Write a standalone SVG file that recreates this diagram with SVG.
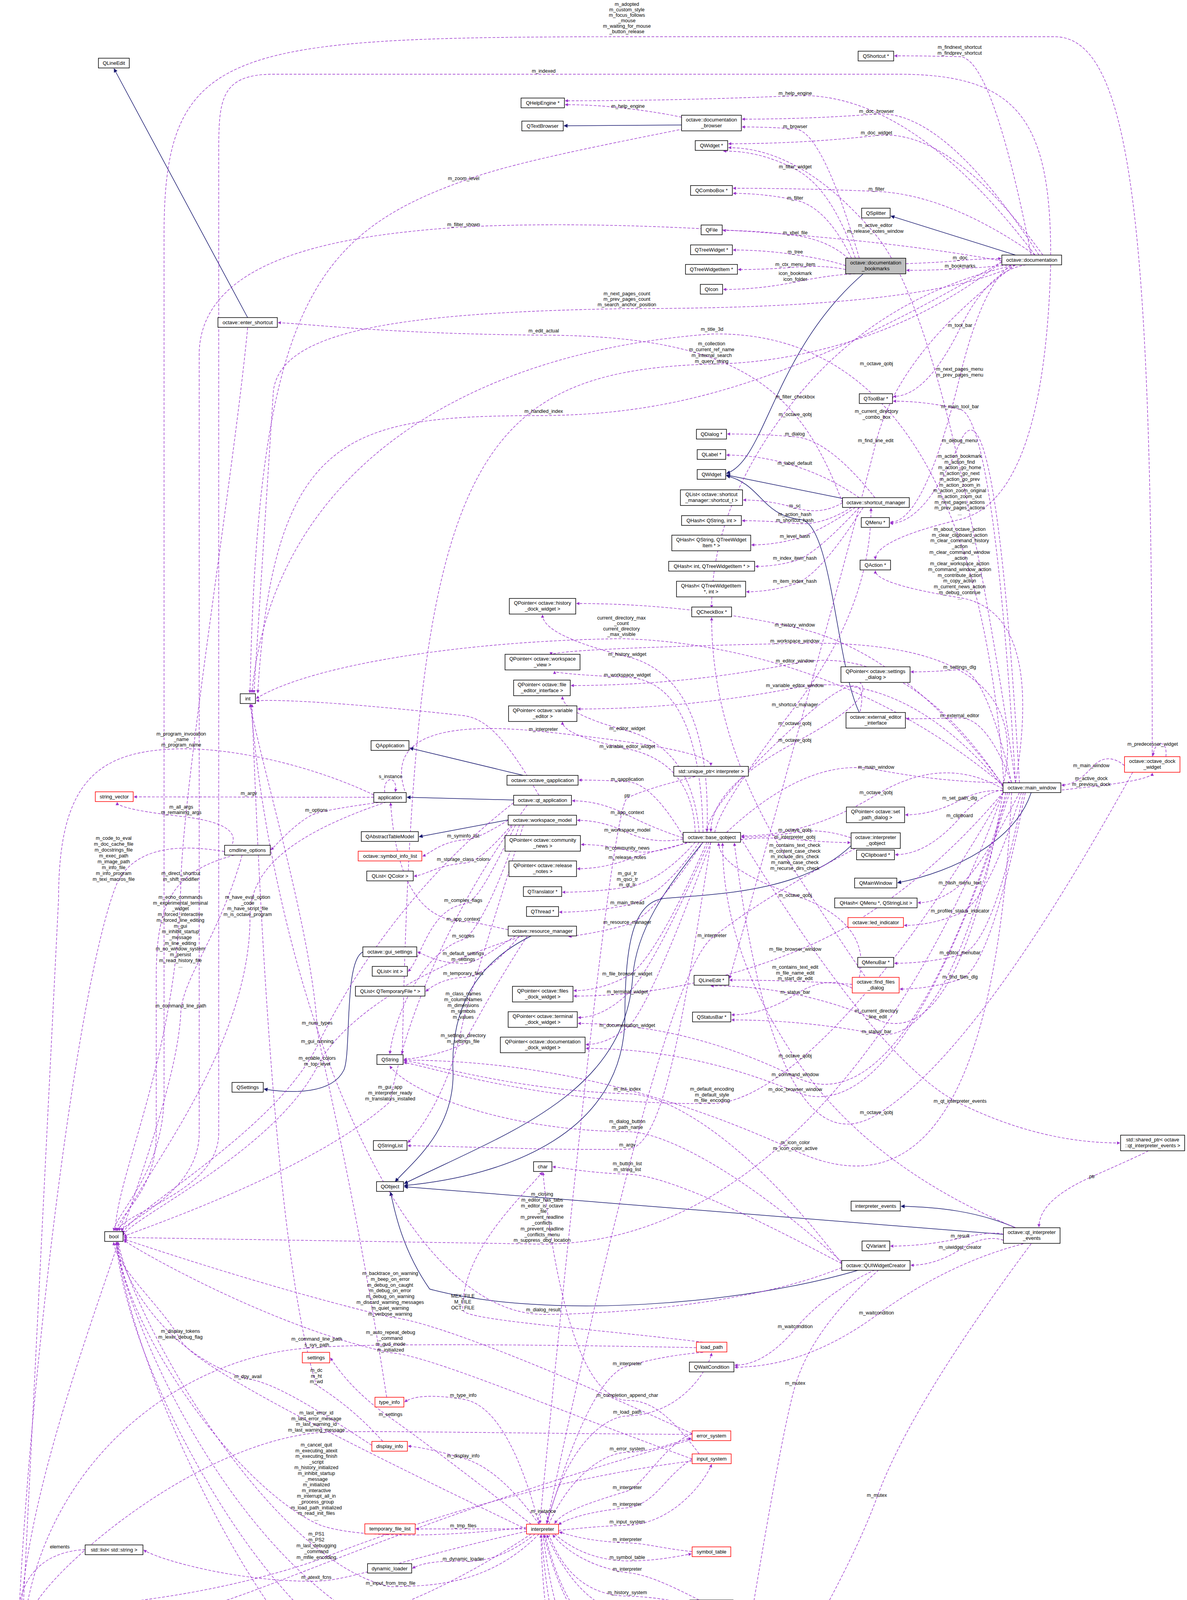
<svg xmlns="http://www.w3.org/2000/svg" width="3039" height="4741" viewBox="0 0 3039 4741">
<style>
.n rect{fill:#fff;stroke:#000;stroke-width:1.5}
.r rect{stroke:#f00}
.g rect{fill:#bfbfbf}
text{font-family:"Liberation Sans",Arial,sans-serif;font-size:13px;fill:#000}
.n text{text-anchor:middle}
.l{text-anchor:middle;font-size:12.5px}
.d{fill:none;stroke:#9a32cd;stroke-width:1.4;stroke-dasharray:7,4;marker-end:url(#ap)}
.s{fill:none;stroke:#191970;stroke-width:1.5;marker-end:url(#an)}
</style>
<defs>
<marker id="ap" viewBox="0 0 10 10" refX="9" refY="5" markerWidth="10" markerHeight="8" orient="auto" markerUnits="userSpaceOnUse"><path d="M0,0L10,5L0,10z" fill="#9a32cd"/></marker>
<marker id="an" viewBox="0 0 10 10" refX="9" refY="5" markerWidth="12" markerHeight="10" orient="auto" markerUnits="userSpaceOnUse"><path d="M0,0L10,5L0,10z" fill="#191970"/></marker>
</defs>
<rect width="3039" height="4741" fill="#fff"/>
<g id="edges">
<path class="s" d="M634,813L292,176"/>
<path class="s" d="M1745,320L1444,322"/>
<path class="s" d="M2600,653L2281,553"/>
<path class="s" d="M2210,701C1980,900 1960,1180 1860,1212"/>
<path class="s" d="M2157,1276L1860,1216"/>
<path class="s" d="M2200,1824C2140,1700 2130,1340 2050,1330C1950,1320 1950,1240 1860,1218"/>
<path class="s" d="M2640,2029C2600,2150 2450,2230 2298,2260"/>
<path class="s" d="M1340,1985L1049,1915"/>
<path class="s" d="M1315,2048L1042,2041"/>
<path class="s" d="M1301,2099L1073,2142"/>
<path class="s" d="M1360,2396C1250,2450 1150,2550 1160,2750C1160,2900 1050,2980 1012,3025"/>
<path class="s" d="M929,2437C880,2460 900,2700 880,2740C850,2800 750,2800 676,2788"/>
<path class="s" d="M1800,2156C1700,2280 1630,2380 1620,2500C1600,2800 1300,2900 1035,3030"/>
<path class="s" d="M2179,2165C2050,2290 1800,2290 1700,2300C1620,2310 1600,2420 1600,2600C1600,2900 1300,3010 1035,3035"/>
<path class="s" d="M2600,3143C2500,3100 2400,3090 2307,3088"/>
<path class="s" d="M2569,3160L1035,3038"/>
<path class="s" d="M2200,3251C1900,3340 1400,3380 1100,3300C1030,3200 1010,3100 1000,3052"/>

<path class="d" d="M2640,653Q2540,147 2457,145T2290,143"/>
<path class="d" d="M2650,653Q2331,232 2036,245T1447,258"/>
<path class="d" d="M1745,300Q1689,288 1608,278T1447,268"/>
<path class="d" d="M2660,653Q2417,279 2244,292T1900,305"/>
<path class="d" d="M2200,661Q2105,335 2036,330T1900,325"/>
<path class="d" d="M2670,653Q2434,326 2244,347T1865,368"/>
<path class="d" d="M2190,661Q2129,481 2036,433T1852,387"/>
<path class="d" d="M2650,653Q2428,498 2244,490T1877,482"/>
<path class="d" d="M2180,661Q2116,529 2036,512T1877,495"/>
<path class="d" d="M2600,2004Q2429,822 2241,600T1865,378"/>
<path class="d" d="M2180,670Q2129,616 2036,603T1851,590"/>
<path class="d" d="M2165,680Q2116,664 2036,652T1877,640"/>
<path class="d" d="M2165,690Q2110,678 2036,684T1890,690"/>
<path class="d" d="M2190,701Q2129,703 2036,722T1852,741"/>
<path class="d" d="M2319,675Q2404,672 2458,667T2563,662"/>
<path class="d" d="M2590,678Q2527,684 2458,688T2321,692"/>
<path class="d" d="M2660,678Q2544,665 2458,840T2287,1015"/>
<path class="d" d="M2600,2004Q2544,1069 2458,1048T2287,1027"/>
<path class="d" d="M2680,678Q2547,595 2457,966T2279,1337"/>
<path class="d" d="M2610,2004Q2547,928 2457,1134T2279,1340"/>
<path class="d" d="M2690,678Q2673,1278 2457,1330T2241,1432"/>
<path class="d" d="M2600,2004Q2673,1565 2457,1530T2241,1461"/>
<path class="d" d="M2240,1274Q2122,1125 2035,1118T1862,1111"/>
<path class="d" d="M2600,678Q2300,900 2242,1135T1868,2505"/>
<path class="d" d="M2200,1274Q2123,1221 2035,1193T1860,1165"/>
<path class="d" d="M2157,1287Q2102,1320 2035,1300T1903,1280"/>
<path class="d" d="M2180,1299Q2103,1347 2035,1340T1900,1333"/>
<path class="d" d="M2190,1299Q2091,1365 2035,1380T1924,1395"/>
<path class="d" d="M2200,1299Q2086,1422 2035,1436T1934,1450"/>
<path class="d" d="M2210,1299Q2098,1475 2035,1495T1911,1515"/>
<path class="d" d="M2600,678Q2250,756 2036,1022T1822,1556"/>
<path class="d" d="M2568,2010Q2315,1667 2035,1606T1476,1545"/>
<path class="d" d="M2568,2010Q2659,1633 2035,1647T1411,1677"/>
<path class="d" d="M2568,2012Q2322,1641 2035,1698T1462,1755"/>
<path class="d" d="M2590,2004Q2520,1708 2457,1714T2332,1720"/>
<path class="d" d="M2568,2014Q2314,1707 2035,1761T1479,1815"/>
<path class="d" d="M1830,2131Q1840,2065 2035,1810T2230,1301"/>
<path class="d" d="M2590,2004Q2526,1836 2457,1838T2320,1840"/>
<path class="d" d="M2190,1864Q2260,1651 2035,1858T1810,2129"/>
<path class="d" d="M2200,1746Q2250,1786 2035,1901T1820,2129"/>
<path class="d" d="M2985,1937C2990,1890 2955,1895 2952,1935"/>
<path class="d" d="M1860,2131Q2069,1936 2243,1970T2588,2004"/>
<path class="d" d="M2879,1960Q2833,1922 2794,1966T2718,2010"/>
<path class="d" d="M2716,2020Q2638,2032 2794,2014T2950,1979"/>
<path class="d" d="M2568,2020Q2416,1930 2243,2035T1898,2140"/>
<path class="d" d="M2600,2029Q2527,2012 2457,2049T2318,2086"/>
<path class="d" d="M2610,2029Q2540,2000 2457,2094T2292,2188"/>
<path class="d" d="M2179,2145Q2104,2119 2035,2131T1898,2143"/>
<path class="d" d="M1896,2150Q1945,2141 2035,2149T2177,2157"/>
<path class="d" d="M2220,2502Q2248,2555 2035,2230T1822,1581"/>
<path class="d" d="M1810,2131Q1823,1735 1606,1681T1389,1574"/>
<path class="d" d="M1800,2131Q1792,1743 1606,1734T1420,1718"/>
<path class="d" d="M1790,2131Q1772,1916 1606,1871T1440,1783"/>
<path class="d" d="M1780,2131Q1772,1952 1606,1917T1440,1848"/>
<path class="d" d="M1040,2035Q962,1828 1391,1873T1820,1960"/>
<path class="d" d="M1780,1988Q1650,2020 1606,2043T1382,3900"/>
<path class="d" d="M1749,2140Q1669,2005 1606,2001T1482,1997"/>
<path class="d" d="M1749,2145Q1677,2122 1606,2086T1465,2050"/>
<path class="d" d="M1749,2148Q1671,2162 1606,2131T1478,2100"/>
<path class="d" d="M1760,2156Q1666,2192 1606,2177T1488,2162"/>
<path class="d" d="M1770,2156Q1671,2178 1606,2201T1478,2224"/>
<path class="d" d="M1780,2156Q1690,2258 1606,2271T1440,2284"/>
<path class="d" d="M1790,2156Q1694,2299 1606,2317T1432,2335"/>
<path class="d" d="M1800,2156Q1671,2348 1606,2367T1456,2398"/>
<path class="d" d="M1810,2156Q1675,2462 1606,2499T1469,2536"/>
<path class="d" d="M1815,2156Q1670,2485 1606,2545T1480,2605"/>
<path class="d" d="M1820,2156Q1660,2588 1606,2631T1500,2674"/>
<path class="d" d="M2190,2172Q1950,2300 1823,2401T1400,3900"/>
<path class="d" d="M2568,2029Q2320,2322 2036,2436T1469,2550"/>
<path class="d" d="M2182,2520Q2121,2515 2036,2512T1868,2509"/>
<path class="d" d="M2182,2530Q2118,2494 2036,2546T1873,2598"/>
<path class="d" d="M2568,2029Q2456,2698 2244,2610T1820,2524"/>
<path class="d" d="M2575,2029Q2430,2683 2244,2647T1873,2611"/>
<path class="d" d="M2610,2029Q2513,2221 2458,2266T2350,2311"/>
<path class="d" d="M2615,2029Q2530,2307 2458,2338T2315,2369"/>
<path class="d" d="M2620,2029Q2543,2424 2458,2445T2290,2466"/>
<path class="d" d="M2625,2029Q2536,2482 2458,2507T2304,2532"/>
<path class="d" d="M2200,2502Q2232,2362 2036,2292T1840,2158"/>
<path class="d" d="M2600,3143Q2222,2985 2036,2709T1850,2158"/>
<path class="d" d="M2580,2029Q2315,2894 2036,2757T1480,2620"/>
<path class="d" d="M2585,2029Q2305,2906 2036,2795T1500,2684"/>
<path class="d" d="M1896,2145Q2252,2724 2458,2825T2867,2926"/>
<path class="d" d="M2900,1977Q2500,2700 2244,2854T1880,2158"/>
<path class="d" d="M2590,2029Q2538,3178 2036,2946T1034,2714"/>
<path class="d" d="M2940,2946Q2932,2952 2796,3012T2660,3141"/>
<path class="d" d="M2569,3160Q2548,3150 2458,3170T2280,3190"/>
<path class="d" d="M2569,3175Q2522,3159 2458,3199T2332,3239"/>
<path class="d" d="M2620,3184Q2426,3234 2244,3367T1881,3500"/>
<path class="d" d="M2240,3251Q2114,3309 2036,3402T1881,3495"/>
<path class="d" d="M2250,3251Q2080,3400 2036,3547T1858,4546"/>
<path class="d" d="M2640,3184Q2330,3600 2245,3834T1858,4550"/>
<path class="d" d="M2950,1937C2950,600 2900,94 2700,94L1700,94C600,94 420,100 420,600L420,2800C420,3000 300,3100 291,3151"/>
<path class="d" d="M2690,653C2690,300 2600,190 2300,190L700,190C560,190 560,260 560,400L560,2900C560,3050 320,3100 300,3151"/>
<path class="d" d="M1750,330C1500,380 1300,420 1187,463C800,600 660,800 640,1774"/>
<path class="d" d="M2565,668C2200,600 1600,560 1187,581C900,600 520,650 510,900L510,2900C510,3050 330,3120 310,3151"/>
<path class="d" d="M2600,678C2400,780 1900,790 1605,790C1000,800 720,850 700,1000L650,1774"/>
<path class="d" d="M2157,1287C2050,1000 1900,860 1392,858C1000,855 800,830 712,826"/>
<path class="d" d="M2565,670C2000,1000 1700,1060 1392,1064C900,1064 700,1100 660,1774"/>
<path class="d" d="M2570,2004C2500,1000 2100,850 1823,855C1200,900 700,1200 645,1774"/>
<path class="d" d="M2565,670C2300,880 2000,930 1822,932C1200,950 1060,1200 1030,2698"/>
<path class="d" d="M2568,2010C2200,1700 1800,1640 1591,1635C1200,1640 800,1700 656,1788"/>
<path class="d" d="M1380,2036C1300,1900 1250,1840 1187,1832C900,1800 720,1790 656,1794"/>
<path class="d" d="M957,2035C800,1960 600,1915 464,1917C250,1920 150,2000 150,2300L60,4105"/>
<path class="d" d="M985,2029C980,1985 1020,1985 1012,2027"/>
<path class="d" d="M957,2041L343,2040"/>
<path class="d" d="M590,2170Q628,2109 464,2090T300,2054"/>
<path class="d" d="M980,2053Q850,2070 810,2082T694,2176"/>
<path class="d" d="M575,2180C400,2150 330,2200 300,2260C200,2500 80,3500 50,4105"/>
<path class="d" d="M634,839C600,1200 470,2000 463,2258C455,2700 300,3000 295,3151"/>
<path class="d" d="M600,2189C450,2230 400,2300 400,2500L400,2900C400,3050 310,3100 298,3151"/>
<path class="d" d="M990,2053C700,2150 640,2250 640,2350C640,2700 330,3050 305,3151"/>
<path class="d" d="M620,2189C560,2400 470,2500 463,2590C450,2900 100,3600 55,4105"/>
<path class="d" d="M990,3577C900,3000 820,2700 812,2632C800,2400 680,2000 640,1803"/>
<path class="d" d="M1315,2055C1000,2300 850,2600 812,2678C700,2900 330,3100 315,3158"/>
<path class="d" d="M1340,2396C1000,2500 850,2650 812,2731C700,2950 330,3120 315,3163"/>
<path class="d" d="M1350,2061C1100,2400 1020,2700 999,2820C800,3000 350,3150 317,3165"/>
<path class="d" d="M2568,2029C2400,2500 2000,3185 1388,3185L317,3168"/>
<path class="d" d="M1772,3670C1400,3500 1100,3380 999,3372C700,3300 400,3200 317,3172"/>
<path class="d" d="M1800,3436C1500,3400 1200,3380 1185,3355C1180,3200 1350,3050 1388,3001"/>
<path class="d" d="M2155,3245C1900,3350 1500,3365 1391,3365C1000,3360 700,2500 642,1803"/>
<path class="d" d="M1348,3915C900,3700 500,3500 462,3430C420,3350 300,3250 291,3180"/>
<path class="d" d="M1783,3450C1300,3440 900,3440 811,3450C500,3460 150,3700 70,4105"/>
<path class="d" d="M1772,3735C1400,3600 1100,3470 1000,3463C700,3400 350,3200 317,3175"/>
<path class="d" d="M1360,3902Q1100,3700 1000,3630T846,3476"/>
<path class="d" d="M952,3700C800,3600 700,3540 635,3530C450,3480 320,3300 300,3180"/>
<path class="d" d="M980,3690C900,3600 830,3560 810,3545C700,3200 660,2200 645,1803"/>
<path class="d" d="M1380,3902Q1300,3600 1186,3582T1036,3589"/>
<path class="d" d="M1772,3672C1300,3670 900,3660 810,3668C500,3700 150,4000 87,4112"/>
<path class="d" d="M1348,3910C1000,3950 850,3920 810,3900C600,3800 320,3400 300,3180"/>
<path class="d" d="M1380,3902Q1280,3760 1186,3733T1045,3702"/>
<path class="d" d="M1348,3914L1065,3914"/>
<path class="d" d="M1772,3740C1300,3800 900,3960 810,3995C500,4100 200,4115 87,4118"/>
<path class="d" d="M218,3967C150,3970 70,4000 50,4105"/>
<path class="d" d="M1370,3927Q1280,4000 1186,3997T1056,4015"/>
<path class="d" d="M1348,3920C1000,4000 900,4045 810,4048C600,4050 400,3990 368,3968"/>
<path class="d" d="M1380,3927C1250,4060 1100,4060 1000,4062C700,4000 350,3400 302,3180"/>
<path class="d" d="M1768,4233C1300,4200 1100,4190 1000,4185C600,4000 330,3400 297,3180"/>
<path class="d" d="M1772,3685C1000,3900 600,4120 462,4124C300,4126 150,4122 87,4122"/>
<path class="d" d="M1360,3927C1100,4100 900,4160 810,4160C650,4165 550,4230 511,4248"/>
<path class="d" d="M415,4250C300,4260 180,4230 153,4215C100,4190 60,4150 50,4134"/>
<path class="d" d="M1766,4110C1400,4200 1000,4285 810,4288C500,4290 150,4260 70,4134"/>
<path class="d" d="M1756,4425C1400,4380 1100,4270 1000,4266C700,4200 320,3500 298,3180"/>
<path class="d" d="M1774,4495C1400,4450 1100,4410 1000,4407C700,4300 330,3500 300,3180"/>
<path class="d" d="M1768,4240C1300,4400 900,4470 810,4470C500,4470 150,4300 65,4134"/>
<path class="d" d="M1756,4436C1400,4560 900,4603 810,4603C400,4603 150,4500 55,4134"/>
<path class="d" d="M1774,4500C1500,4700 1000,4736 810,4736C300,4736 100,4600 45,4134"/>
<path class="d" d="M1800,3462Q1700,3470 1606,3497T1400,3900"/>
<path class="d" d="M1790,3722C1700,3600 1650,3585 1606,3585C1450,3580 1400,3100 1390,3001"/>
<path class="d" d="M1400,3902C1450,3700 1550,3625 1606,3625C1750,3620 1815,3500 1822,3464"/>
<path class="d" d="M1405,3902C1450,3800 1530,3720 1606,3718C1680,3715 1730,3690 1770,3682"/>
<path class="d" d="M1772,3670C1700,3700 1650,3800 1606,3817C1500,3850 1440,3870 1420,3900"/>
<path class="d" d="M1772,3735C1700,3780 1680,3850 1606,3860C1500,3870 1450,3890 1430,3903"/>
<path class="d" d="M1380,3902C1370,3860 1410,3860 1400,3900"/>
<path class="d" d="M1430,3918C1500,3910 1570,3905 1606,3905C1720,3900 1800,3800 1822,3749"/>
<path class="d" d="M1772,3972C1700,3965 1650,3950 1606,3950C1500,3945 1460,3930 1432,3922"/>
<path class="d" d="M1420,3927C1480,3980 1550,3995 1606,3996C1680,3996 1730,3985 1770,3978"/>
<path class="d" d="M1790,4096C1700,4050 1650,4030 1606,4026C1500,4010 1440,3960 1415,3929"/>
<path class="d" d="M1405,3927C1450,4050 1530,4085 1606,4086C1680,4088 1730,4100 1764,4105"/>
<path class="d" d="M1790,4221C1700,4160 1650,4130 1606,4129C1500,4120 1430,4000 1400,3929"/>
<path class="d" d="M1395,3927C1450,4150 1540,4207 1606,4210C1680,4212 1730,4230 1766,4233"/>
<path class="d" d="M1790,4418C1700,4300 1650,4260 1606,4256C1500,4240 1420,4050 1393,3929"/>
<path class="d" d="M1390,3927C1430,4250 1530,4365 1606,4368C1680,4370 1720,4420 1754,4428"/>
<path class="d" d="M1386,3927C1420,4350 1520,4433 1606,4436C1700,4440 1740,4490 1772,4495"/>
<path class="d" d="M1774,4500C1700,4510 1650,4518 1606,4519C1450,4520 1390,4200 1385,3929"/>
<path class="d" d="M1301,2100C1250,2130 1220,2148 1187,2150C1130,2155 1100,2185 1082,2192"/>
<path class="d" d="M1310,2112C1250,2180 1220,2207 1186,2210C1120,2215 1090,2240 1060,2243"/>
<path class="d" d="M1320,2112C1250,2250 1220,2310 1186,2315C1100,2330 1080,2450 1045,2487"/>
<path class="d" d="M1301,2380C1250,2370 1220,2360 1186,2359C1050,2355 1010,2200 1000,2055"/>
<path class="d" d="M1330,2112C1250,2350 1200,2400 1186,2405C1080,2440 1010,2600 998,2698"/>
<path class="d" d="M1320,2396C1250,2440 1220,2465 1186,2467C1120,2465 1090,2445 1069,2437"/>
<path class="d" d="M1330,2396C1260,2480 1220,2500 1186,2502C1130,2505 1100,2530 1090,2538"/>
<path class="d" d="M1340,2112C1250,2400 1200,2560 1186,2612C1150,2800 1070,2900 1044,2925"/>
<path class="d" d="M1350,2396C1250,2550 1200,2650 1186,2672C1130,2700 1060,2710 1034,2712"/>
<path class="d" d="M2155,3235C1900,2900 1700,2800 1606,2800C1300,2790 1100,2720 1034,2716"/>
<path class="d" d="M2568,2029C2300,2500 2000,2825 1823,2825C1400,2830 1100,2730 1034,2720"/>
<path class="d" d="M2155,3230C1900,3000 1700,2897 1606,2897C1300,2895 1050,2800 998,2729"/>
<path class="d" d="M1820,2156C1750,2600 1700,2940 1606,2942C1400,2945 1200,2935 1044,2933"/>
<path class="d" d="M2155,3235C1900,3100 1700,3007 1606,3006C1500,3002 1450,2990 1415,2987"/>
</g>

<g id="labels">
<text class="l" x="2457" y="125"><tspan x="2457">m_findnext_shortcut</tspan><tspan x="2457" dy="15">m_findprev_shortcut</tspan></text>
<text class="l" x="2036" y="243">m_help_engine</text>
<text class="l" x="1608" y="276">m_help_engine</text>
<text class="l" x="2244" y="289">m_doc_browser</text>
<text class="l" x="2036" y="328">m_browser</text>
<text class="l" x="2244" y="344">m_doc_widget</text>
<text class="l" x="2036" y="431">m_filter_widget</text>
<text class="l" x="2244" y="488">m_filter</text>
<text class="l" x="2036" y="511">m_filter</text>
<text class="l" x="2241" y="581"><tspan x="2241">m_active_editor</tspan><tspan x="2241" dy="15">m_release_notes_window</tspan></text>
<text class="l" x="2036" y="600">m_xbel_file</text>
<text class="l" x="2036" y="649">m_tree</text>
<text class="l" x="2036" y="681">m_ctx_menu_item</text>
<text class="l" x="2036" y="704"><tspan x="2036">icon_bookmark</tspan><tspan x="2036" dy="15">icon_folder</tspan></text>
<text class="l" x="2458" y="664">m_doc</text>
<text class="l" x="2458" y="685">m_bookmarks</text>
<text class="l" x="2458" y="837">m_tool_bar</text>
<text class="l" x="1823" y="847">m_title_3d</text>
<text class="l" x="1822" y="884"><tspan x="1822">m_collection</tspan><tspan x="1822" dy="15">m_current_ref_name</tspan><tspan x="1822" dy="15">m_internal_search</tspan><tspan x="1822" dy="15">m_query_string</tspan></text>
<text class="l" x="2244" y="935">m_octave_qobj</text>
<text class="l" x="2457" y="949"><tspan x="2457">m_next_pages_menu</tspan><tspan x="2457" dy="15">m_prev_pages_menu</tspan></text>
<text class="l" x="2036" y="1020">m_filter_checkbox</text>
<text class="l" x="2036" y="1065">m_octave_qobj</text>
<text class="l" x="2244" y="1057"><tspan x="2244">m_current_directory</tspan><tspan x="2244" dy="15">_combo_box</tspan></text>
<text class="l" x="2458" y="1045">m_main_tool_bar</text>
<text class="l" x="1605" y="15"><tspan x="1605">m_adopted</tspan><tspan x="1605" dy="14">m_custom_style</tspan><tspan x="1605" dy="14">m_focus_follows</tspan><tspan x="1605" dy="14">_mouse</tspan><tspan x="1605" dy="14">m_waiting_for_mouse</tspan><tspan x="1605" dy="14">_button_release</tspan></text>
<text class="l" x="1392" y="186">m_indexed</text>
<text class="l" x="1187" y="461">m_zoom_level</text>
<text class="l" x="1187" y="579">m_filter_shown</text>
<text class="l" x="1605" y="756"><tspan x="1605">m_next_pages_count</tspan><tspan x="1605" dy="14">m_prev_pages_count</tspan><tspan x="1605" dy="14">m_search_anchor_position</tspan></text>
<text class="l" x="1392" y="851">m_edit_actual</text>
<text class="l" x="1392" y="1057">m_handled_index</text>
<text class="l" x="2035" y="1115">m_dialog</text>
<text class="l" x="2242" y="1132">m_find_line_edit</text>
<text class="l" x="2457" y="1132">m_debug_menu</text>
<text class="l" x="2035" y="1190">m_label_default</text>
<text class="l" x="2457" y="1172"><tspan x="2457">m_action_bookmark</tspan><tspan x="2457" dy="14.7">m_action_find</tspan><tspan x="2457" dy="14.7">m_action_go_home</tspan><tspan x="2457" dy="14.7">m_action_go_next</tspan><tspan x="2457" dy="14.7">m_action_go_prev</tspan><tspan x="2457" dy="14.7">m_action_zoom_in</tspan><tspan x="2457" dy="14.7">m_action_zoom_original</tspan><tspan x="2457" dy="14.7">m_action_zoom_out</tspan><tspan x="2457" dy="14.7">m_next_pages_actions</tspan><tspan x="2457" dy="14.7">m_prev_pages_actions</tspan><tspan x="2457" dy="14.7">...</tspan></text>
<text class="l" x="2035" y="1299">m_sc</text>
<text class="l" x="2035" y="1321"><tspan x="2035">m_action_hash</tspan><tspan x="2035" dy="15">m_shortcut_hash</tspan></text>
<text class="l" x="2035" y="1377">m_level_hash</text>
<text class="l" x="2035" y="1433">m_index_item_hash</text>
<text class="l" x="2035" y="1492">m_item_index_hash</text>
<text class="l" x="2457" y="1359"><tspan x="2457">m_about_octave_action</tspan><tspan x="2457" dy="14.7">m_clear_clipboard_action</tspan><tspan x="2457" dy="14.7">m_clear_command_history</tspan><tspan x="2457" dy="14.7">_action</tspan><tspan x="2457" dy="14.7">m_clear_command_window</tspan><tspan x="2457" dy="14.7">_action</tspan><tspan x="2457" dy="14.7">m_clear_workspace_action</tspan><tspan x="2457" dy="14.7">m_command_window_action</tspan><tspan x="2457" dy="14.7">m_contribute_action</tspan><tspan x="2457" dy="14.7">m_copy_action</tspan><tspan x="2457" dy="14.7">m_current_news_action</tspan><tspan x="2457" dy="14.7">m_debug_continue</tspan><tspan x="2457" dy="14.7">...</tspan></text>
<text class="l" x="1591" y="1586"><tspan x="1591">current_directory_max</tspan><tspan x="1591" dy="14">_count</tspan><tspan x="1591" dy="14">current_directory</tspan><tspan x="1591" dy="14">_max_visible</tspan></text>
<text class="l" x="2035" y="1604">m_history_window</text>
<text class="l" x="2035" y="1645">m_workspace_window</text>
<text class="l" x="2035" y="1696">m_editor_window</text>
<text class="l" x="2457" y="1712">m_settings_dlg</text>
<text class="l" x="2035" y="1759">m_variable_editor_window</text>
<text class="l" x="2035" y="1808">m_shortcut_manager</text>
<text class="l" x="2457" y="1836">m_external_editor</text>
<text class="l" x="2035" y="1856">m_octave_qobj</text>
<text class="l" x="2035" y="1899">m_octave_qobj</text>
<text class="l" x="2951" y="1909">m_predecessor_widget</text>
<text class="l" x="2243" y="1968">m_main_window</text>
<text class="l" x="2794" y="1964">m_main_window</text>
<text class="l" x="2794" y="1997"><tspan x="2794">m_active_dock</tspan><tspan x="2794" dy="15">m_previous_dock</tspan></text>
<text class="l" x="2243" y="2033">m_octave_qobj</text>
<text class="l" x="2457" y="2047">m_set_path_dlg</text>
<text class="l" x="2457" y="2092">m_clipboard</text>
<text class="l" x="2035" y="2129">m_octave_qobj</text>
<text class="l" x="2035" y="2147">m_interpreter_qobj</text>
<text class="l" x="2035" y="2168"><tspan x="2035">m_contains_text_check</tspan><tspan x="2035" dy="14.7">m_content_case_check</tspan><tspan x="2035" dy="14.7">m_include_dirs_check</tspan><tspan x="2035" dy="14.7">m_name_case_check</tspan><tspan x="2035" dy="14.7">m_recurse_dirs_check</tspan></text>
<text class="l" x="1606" y="1679">m_history_widget</text>
<text class="l" x="1606" y="1732">m_workspace_widget</text>
<text class="l" x="1391" y="1826">m_argc</text>
<text class="l" x="1391" y="1871">m_interpreter</text>
<text class="l" x="1606" y="1869">m_editor_widget</text>
<text class="l" x="1606" y="1915">m_variable_editor_widget</text>
<text class="l" x="1606" y="1999">m_qapplication</text>
<text class="l" x="1606" y="2041">ptr</text>
<text class="l" x="1606" y="2084">m_app_context</text>
<text class="l" x="1606" y="2129">m_workspace_model</text>
<text class="l" x="1606" y="2175">m_community_news</text>
<text class="l" x="1606" y="2199">m_release_notes</text>
<text class="l" x="1606" y="2240"><tspan x="1606">m_gui_tr</tspan><tspan x="1606" dy="14.5">m_qsci_tr</tspan><tspan x="1606" dy="14.5">m_qt_tr</tspan></text>
<text class="l" x="1606" y="2315">m_main_thread</text>
<text class="l" x="1606" y="2365">m_resource_manager</text>
<text class="l" x="1823" y="2399">m_interpreter</text>
<text class="l" x="1606" y="2497">m_file_browser_widget</text>
<text class="l" x="1606" y="2543">m_terminal_widget</text>
<text class="l" x="1606" y="2629">m_documentation_widget</text>
<text class="l" x="1606" y="2792">m_list_index</text>
<text class="l" x="1823" y="2792"><tspan x="1823">m_default_encoding</tspan><tspan x="1823" dy="14.5">m_default_style</tspan><tspan x="1823" dy="14.5">m_file_encoding</tspan></text>
<text class="l" x="1606" y="2875"><tspan x="1606">m_dialog_button</tspan><tspan x="1606" dy="14.5">m_path_name</tspan></text>
<text class="l" x="1606" y="2935">m_argv</text>
<text class="l" x="1606" y="2983"><tspan x="1606">m_button_list</tspan><tspan x="1606" dy="15">m_string_list</tspan></text>
<text class="l" x="1388" y="3061"><tspan x="1388">m_closing</tspan><tspan x="1388" dy="14.8">m_editor_has_tabs</tspan><tspan x="1388" dy="14.8">m_editor_is_octave</tspan><tspan x="1388" dy="14.8">_file</tspan><tspan x="1388" dy="14.8">m_prevent_readline</tspan><tspan x="1388" dy="14.8">_conflicts</tspan><tspan x="1388" dy="14.8">m_prevent_readline</tspan><tspan x="1388" dy="14.8">_conflicts_menu</tspan><tspan x="1388" dy="14.8">m_suppress_dbg_location</tspan></text>
<text class="l" x="2458" y="2264">m_hash_menu_text</text>
<text class="l" x="2458" y="2336">m_profiler_status_indicator</text>
<text class="l" x="2036" y="2296">m_octave_qobj</text>
<text class="l" x="2036" y="2434">m_file_browser_window</text>
<text class="l" x="2458" y="2443">m_editor_menubar</text>
<text class="l" x="2036" y="2480"><tspan x="2036">m_contains_text_edit</tspan><tspan x="2036" dy="14.5">m_file_name_edit</tspan><tspan x="2036" dy="14.5">m_start_dir_edit</tspan></text>
<text class="l" x="2458" y="2505">m_find_files_dlg</text>
<text class="l" x="2036" y="2544">m_status_bar</text>
<text class="l" x="2244" y="2592"><tspan x="2244">m_current_directory</tspan><tspan x="2244" dy="15">_line_edit</tspan></text>
<text class="l" x="2244" y="2645">m_status_bar</text>
<text class="l" x="2036" y="2707">m_octave_qobj</text>
<text class="l" x="2036" y="2755">m_command_window</text>
<text class="l" x="2036" y="2793">m_doc_browser_window</text>
<text class="l" x="2458" y="2823">m_qt_interpreter_events</text>
<text class="l" x="2244" y="2852">m_octave_qobj</text>
<text class="l" x="2036" y="2929"><tspan x="2036">m_icon_color</tspan><tspan x="2036" dy="15">m_icon_color_active</tspan></text>
<text class="l" x="2796" y="3016">ptr</text>
<text class="l" x="2458" y="3168">m_result</text>
<text class="l" x="2458" y="3197">m_uiwidget_creator</text>
<text class="l" x="2244" y="3365">m_waitcondition</text>
<text class="l" x="2036" y="3400">m_waitcondition</text>
<text class="l" x="2036" y="3545">m_mutex</text>
<text class="l" x="2245" y="3832">m_mutex</text>
<text class="l" x="464" y="1883"><tspan x="464">m_program_invocation</tspan><tspan x="464" dy="14">_name</tspan><tspan x="464" dy="14">m_program_name</tspan></text>
<text class="l" x="1000" y="1992">s_instance</text>
<text class="l" x="637" y="2035">m_argv</text>
<text class="l" x="464" y="2070"><tspan x="464">m_all_args</tspan><tspan x="464" dy="14">m_remaining_args</tspan></text>
<text class="l" x="810" y="2078">m_options</text>
<text class="l" x="1186" y="2144">m_syminfo_list</text>
<text class="l" x="1186" y="2204">m_storage_class_colors</text>
<text class="l" x="1186" y="2309">m_complex_flags</text>
<text class="l" x="1186" y="2357">m_app_context</text>
<text class="l" x="1186" y="2400">m_scopes</text>
<text class="l" x="1186" y="2445"><tspan x="1186">m_default_settings</tspan><tspan x="1186" dy="15">m_settings</tspan></text>
<text class="l" x="1186" y="2496">m_temporary_files</text>
<text class="l" x="1186" y="2548"><tspan x="1186">m_class_names</tspan><tspan x="1186" dy="15">m_columnNames</tspan><tspan x="1186" dy="15">m_dimensions</tspan><tspan x="1186" dy="15">m_symbols</tspan><tspan x="1186" dy="15">m_values</tspan></text>
<text class="l" x="1186" y="2655"><tspan x="1186">m_settings_directory</tspan><tspan x="1186" dy="15">m_settings_file</tspan></text>
<text class="l" x="291" y="2150"><tspan x="291">m_code_to_eval</tspan><tspan x="291" dy="15">m_doc_cache_file</tspan><tspan x="291" dy="15">m_docstrings_file</tspan><tspan x="291" dy="15">m_exec_path</tspan><tspan x="291" dy="15">m_image_path</tspan><tspan x="291" dy="15">m_info_file</tspan><tspan x="291" dy="15">m_info_program</tspan><tspan x="291" dy="15">m_texi_macros_file</tspan></text>
<text class="l" x="463" y="2240"><tspan x="463">m_direct_shortcut</tspan><tspan x="463" dy="15">m_shift_modifier</tspan></text>
<text class="l" x="462" y="2301"><tspan x="462">m_echo_commands</tspan><tspan x="462" dy="14.7">m_experimental_terminal</tspan><tspan x="462" dy="14.7">_widget</tspan><tspan x="462" dy="14.7">m_forced_interactive</tspan><tspan x="462" dy="14.7">m_forced_line_editing</tspan><tspan x="462" dy="14.7">m_gui</tspan><tspan x="462" dy="14.7">m_inhibit_startup</tspan><tspan x="462" dy="14.7">_message</tspan><tspan x="462" dy="14.7">m_line_editing</tspan><tspan x="462" dy="14.7">m_no_window_system</tspan><tspan x="462" dy="14.7">m_persist</tspan><tspan x="462" dy="14.7">m_read_history_file</tspan><tspan x="462" dy="14.7">...</tspan></text>
<text class="l" x="634" y="2301"><tspan x="634">m_have_eval_option</tspan><tspan x="634" dy="14.7">_code</tspan><tspan x="634" dy="14.7">m_have_script_file</tspan><tspan x="634" dy="14.7">m_is_octave_program</tspan></text>
<text class="l" x="463" y="2579">m_command_line_path</text>
<text class="l" x="812" y="2623">m_num_types</text>
<text class="l" x="812" y="2670">m_gui_running</text>
<text class="l" x="812" y="2713"><tspan x="812">m_enable_colors</tspan><tspan x="812" dy="15">m_top_level</tspan></text>
<text class="l" x="999" y="2787"><tspan x="999">m_gui_app</tspan><tspan x="999" dy="15">m_interpreter_ready</tspan><tspan x="999" dy="15">m_translators_installed</tspan></text>
<text class="l" x="999" y="3264"><tspan x="999">m_backtrace_on_warning</tspan><tspan x="999" dy="14.8">m_beep_on_error</tspan><tspan x="999" dy="14.8">m_debug_on_caught</tspan><tspan x="999" dy="14.8">m_debug_on_error</tspan><tspan x="999" dy="14.8">m_debug_on_warning</tspan><tspan x="999" dy="14.8">m_discard_warning_messages</tspan><tspan x="999" dy="14.8">m_quiet_warning</tspan><tspan x="999" dy="14.8">m_verbose_warning</tspan></text>
<text class="l" x="1185" y="3322"><tspan x="1185">MEX_FILE</tspan><tspan x="1185" dy="15">M_FILE</tspan><tspan x="1185" dy="15">OCT_FILE</tspan></text>
<text class="l" x="1391" y="3357">m_dialog_result</text>
<text class="l" x="462" y="3412"><tspan x="462">m_display_tokens</tspan><tspan x="462" dy="15">m_lexer_debug_flag</tspan></text>
<text class="l" x="811" y="3432"><tspan x="811">m_command_line_path</tspan><tspan x="811" dy="15">s_sys_path</tspan></text>
<text class="l" x="1000" y="3415"><tspan x="1000">m_auto_repeat_debug</tspan><tspan x="1000" dy="15">_command</tspan><tspan x="1000" dy="15">m_gud_mode</tspan><tspan x="1000" dy="15">m_initialized</tspan></text>
<text class="l" x="635" y="3528">m_dpy_avail</text>
<text class="l" x="810" y="3512"><tspan x="810">m_dc</tspan><tspan x="810" dy="14.5">m_ht</tspan><tspan x="810" dy="14.5">m_wd</tspan></text>
<text class="l" x="1186" y="3576">m_type_info</text>
<text class="l" x="1000" y="3625">m_settings</text>
<text class="l" x="810" y="3621"><tspan x="810">m_last_error_id</tspan><tspan x="810" dy="14.7">m_last_error_message</tspan><tspan x="810" dy="14.7">m_last_warning_id</tspan><tspan x="810" dy="14.7">m_last_warning_message</tspan></text>
<text class="l" x="810" y="3703"><tspan x="810">m_cancel_quit</tspan><tspan x="810" dy="14.6">m_executing_atexit</tspan><tspan x="810" dy="14.6">m_executing_finish</tspan><tspan x="810" dy="14.6">_script</tspan><tspan x="810" dy="14.6">m_history_initialized</tspan><tspan x="810" dy="14.6">m_inhibit_startup</tspan><tspan x="810" dy="14.6">_message</tspan><tspan x="810" dy="14.6">m_initialized</tspan><tspan x="810" dy="14.6">m_interactive</tspan><tspan x="810" dy="14.6">m_interrupt_all_in</tspan><tspan x="810" dy="14.6">_process_group</tspan><tspan x="810" dy="14.6">m_load_path_initialized</tspan><tspan x="810" dy="14.6">m_read_init_files</tspan><tspan x="810" dy="14.6">...</tspan></text>
<text class="l" x="1186" y="3731">m_display_info</text>
<text class="l" x="1186" y="3910">m_tmp_files</text>
<text class="l" x="810" y="3931"><tspan x="810">m_PS1</tspan><tspan x="810" dy="15">m_PS2</tspan><tspan x="810" dy="15">m_last_debugging</tspan><tspan x="810" dy="15">_command</tspan><tspan x="810" dy="15">m_mfile_encoding</tspan></text>
<text class="l" x="153" y="3964">elements</text>
<text class="l" x="1186" y="3995">m_dynamic_loader</text>
<text class="l" x="810" y="4042">m_atexit_fcns</text>
<text class="l" x="1000" y="4057">m_input_from_tmp_file</text>
<text class="l" x="1000" y="4108"><tspan x="1000">m_flushing_output_to</tspan><tspan x="1000" dy="14.6">_pager</tspan><tspan x="1000" dy="14.6">m_page_output_immediately</tspan><tspan x="1000" dy="14.6">m_page_screen_output</tspan><tspan x="1000" dy="14.6">m_really_flush_to_pager</tspan><tspan x="1000" dy="14.6">m_write_to_diary_file</tspan></text>
<text class="l" x="462" y="4119">m_msg</text>
<text class="l" x="810" y="4155">m_environment</text>
<text class="l" x="153" y="4183"><tspan x="153">m_editor</tspan><tspan x="153" dy="14.5">m_exec_path</tspan><tspan x="153" dy="14.5">m_image_path</tspan></text>
<text class="l" x="810" y="4265"><tspan x="810">m_timestamp_format</tspan><tspan x="810" dy="15">_string</tspan></text>
<text class="l" x="1000" y="4259">m_crash_dumps_octave_core</text>
<text class="l" x="1000" y="4388"><tspan x="1000">m_suppress_verbose</tspan><tspan x="1000" dy="15">_help_message</tspan></text>
<text class="l" x="810" y="4438"><tspan x="810">m_PAGER</tspan><tspan x="810" dy="14.5">m_PAGER_FLAGS</tspan><tspan x="810" dy="14.5">m_diary_file_name</tspan></text>
<text class="l" x="810" y="4511"><tspan x="810">m_octave_core_file</tspan><tspan x="810" dy="14.7">_name</tspan><tspan x="810" dy="14.7">m_octave_core_file</tspan><tspan x="810" dy="14.7">_options</tspan><tspan x="810" dy="14.7">m_save_default_options</tspan><tspan x="810" dy="14.7">m_save_header_format</tspan><tspan x="810" dy="14.7">_string</tspan></text>
<text class="l" x="810" y="4644"><tspan x="810">m_built_in_docstrings</tspan><tspan x="810" dy="14.7">_file</tspan><tspan x="810" dy="14.7">m_doc_cache_file</tspan><tspan x="810" dy="14.7">m_info_file</tspan><tspan x="810" dy="14.7">m_info_program</tspan><tspan x="810" dy="14.7">m_makeinfo_program</tspan><tspan x="810" dy="14.7">m_texi_macros_file</tspan></text>
<text class="l" x="1606" y="3495">m_interpreter</text>
<text class="l" x="1606" y="3576">m_completion_append_char</text>
<text class="l" x="1606" y="3619">m_load_path</text>
<text class="l" x="1606" y="3713">m_error_system</text>
<text class="l" x="1606" y="3812">m_interpreter</text>
<text class="l" x="1606" y="3855">m_interpreter</text>
<text class="l" x="1391" y="3873">m_instance</text>
<text class="l" x="1606" y="3900">m_input_system</text>
<text class="l" x="1606" y="3945">m_interpreter</text>
<text class="l" x="1606" y="3991">m_symbol_table</text>
<text class="l" x="1606" y="4021">m_interpreter</text>
<text class="l" x="1606" y="4081">m_history_system</text>
<text class="l" x="1606" y="4124">m_interpreter</text>
<text class="l" x="1606" y="4205">m_output_system</text>
<text class="l" x="1606" y="4251">m_interpreter</text>
<text class="l" x="1606" y="4363">m_load_save_system</text>
<text class="l" x="1606" y="4431">m_help_system</text>
<text class="l" x="1606" y="4514">m_interpreter</text>
</g>

<g id="n1" class="n"><rect x="252" y="149" width="79" height="25"/><text x="291.5" y="166">QLineEdit</text></g>
<g id="n2" class="n"><rect x="1334" y="251" width="111" height="25"/><text x="1389.5" y="268">QHelpEngine *</text></g>
<g id="n3" class="n"><rect x="1336" y="310" width="106" height="25"/><text x="1389" y="327">QTextBrowser</text></g>
<g id="n4" class="n"><rect x="1745" y="295" width="153" height="40"/><text x="1821.5" y="311">octave::documentation</text><text x="1821.5" y="326">_browser</text></g>
<g id="n5" class="n"><rect x="2197" y="131" width="91" height="25"/><text x="2242.5" y="148">QShortcut *</text></g>
<g id="n6" class="n"><rect x="1780" y="360" width="83" height="25"/><text x="1821.5" y="377">QWidget *</text></g>
<g id="n7" class="n"><rect x="1768" y="475" width="107" height="25"/><text x="1821.5" y="492">QComboBox *</text></g>
<g id="n8" class="n"><rect x="2206" y="533" width="73" height="25"/><text x="2242.5" y="550">QSplitter</text></g>
<g id="n9" class="n"><rect x="1795" y="576" width="54" height="25"/><text x="1822" y="593">QFile</text></g>
<g id="n10" class="n"><rect x="1768" y="627" width="107" height="25"/><text x="1821.5" y="644">QTreeWidget *</text></g>
<g id="n11" class="n"><rect x="1755" y="677" width="133" height="25"/><text x="1821.5" y="694">QTreeWidgetItem *</text></g>
<g id="n12" class="n"><rect x="1793" y="728" width="57" height="25"/><text x="1821.5" y="745">QIcon</text></g>
<g id="n13" class="n g"><rect x="2165" y="661" width="154" height="40"/><text x="2242" y="677">octave::documentation</text><text x="2242" y="692">_bookmarks</text></g>
<g id="n14" class="n"><rect x="2565" y="653" width="153" height="25"/><text x="2641.5" y="670">octave::documentation</text></g>
<g id="n15" class="n"><rect x="558" y="813" width="152" height="25"/><text x="634" y="830">octave::enter_shortcut</text></g>
<g id="n16" class="n"><rect x="2200" y="1008" width="85" height="25"/><text x="2242.5" y="1025">QToolBar *</text></g>
<g id="n17" class="n"><rect x="1783" y="1099" width="77" height="25"/><text x="1821.5" y="1116">QDialog *</text></g>
<g id="n18" class="n"><rect x="1785" y="1151" width="73" height="25"/><text x="1821.5" y="1168">QLabel *</text></g>
<g id="n19" class="n"><rect x="1785" y="1202" width="73" height="25"/><text x="1821.5" y="1219">QWidget</text></g>
<g id="n20" class="n"><rect x="1742" y="1254" width="159" height="40"/><text x="1821.5" y="1270">QList&lt; octave::shortcut</text><text x="1821.5" y="1285">_manager::shortcut_t &gt;</text></g>
<g id="n21" class="n"><rect x="2157" y="1274" width="171" height="25"/><text x="2242.5" y="1291">octave::shortcut_manager</text></g>
<g id="n22" class="n"><rect x="1745" y="1320" width="153" height="25"/><text x="1821.5" y="1337">QHash&lt; QString, int &gt;</text></g>
<g id="n23" class="n"><rect x="2205" y="1325" width="72" height="25"/><text x="2241" y="1342">QMenu *</text></g>
<g id="n24" class="n"><rect x="1720" y="1370" width="202" height="40"/><text x="1821" y="1386">QHash&lt; QString, QTreeWidget</text><text x="1821" y="1401">Item * &gt;</text></g>
<g id="n25" class="n"><rect x="2202" y="1434" width="78" height="25"/><text x="2241" y="1451">QAction *</text></g>
<g id="n26" class="n"><rect x="1712" y="1437" width="220" height="25"/><text x="1822" y="1454">QHash&lt; int, QTreeWidgetItem * &gt;</text></g>
<g id="n27" class="n"><rect x="1732" y="1488" width="177" height="40"/><text x="1820.5" y="1504">QHash&lt; QTreeWidgetItem</text><text x="1820.5" y="1519">*, int &gt;</text></g>
<g id="n28" class="n"><rect x="1771" y="1554" width="102" height="25"/><text x="1822" y="1571">QCheckBox *</text></g>
<g id="n29" class="n"><rect x="1304" y="1532" width="170" height="40"/><text x="1389" y="1548">QPointer&lt; octave::history</text><text x="1389" y="1563">_dock_widget &gt;</text></g>
<g id="n30" class="n"><rect x="1293" y="1675" width="192" height="40"/><text x="1389" y="1691">QPointer&lt; octave::workspace</text><text x="1389" y="1706">_view &gt;</text></g>
<g id="n31" class="n"><rect x="2153" y="1707" width="177" height="40"/><text x="2241.5" y="1723">QPointer&lt; octave::settings</text><text x="2241.5" y="1738">_dialog &gt;</text></g>
<g id="n32" class="n"><rect x="1315" y="1741" width="145" height="40"/><text x="1387.5" y="1757">QPointer&lt; octave::file</text><text x="1387.5" y="1772">_editor_interface &gt;</text></g>
<g id="n33" class="n"><rect x="615" y="1776" width="39" height="25"/><text x="634.5" y="1793">int</text></g>
<g id="n34" class="n"><rect x="1302" y="1807" width="175" height="40"/><text x="1389.5" y="1823">QPointer&lt; octave::variable</text><text x="1389.5" y="1838">_editor &gt;</text></g>
<g id="n35" class="n"><rect x="2166" y="1824" width="152" height="40"/><text x="2242" y="1840">octave::external_editor</text><text x="2242" y="1855">_interface</text></g>
<g id="n36" class="n"><rect x="950" y="1896" width="97" height="25"/><text x="998.5" y="1913">QApplication</text></g>
<g id="n37" class="n r"><rect x="2879" y="1937" width="142" height="40"/><text x="2950" y="1953">octave::octave_dock</text><text x="2950" y="1968">_widget</text></g>
<g id="n38" class="n"><rect x="1725" y="1962" width="191" height="25"/><text x="1820.5" y="1979">std::unique_ptr&lt; interpreter &gt;</text></g>
<g id="n39" class="n"><rect x="1298" y="1985" width="182" height="25"/><text x="1389" y="2002">octave::octave_qapplication</text></g>
<g id="n40" class="n"><rect x="2568" y="2004" width="148" height="25"/><text x="2642" y="2021">octave::main_window</text></g>
<g id="n41" class="n"><rect x="957" y="2029" width="83" height="25"/><text x="998.5" y="2046">application</text></g>
<g id="n42" class="n r"><rect x="244" y="2027" width="97" height="25"/><text x="292.5" y="2044">string_vector</text></g>
<g id="n43" class="n"><rect x="1315" y="2036" width="148" height="25"/><text x="1389" y="2053">octave::qt_application</text></g>
<g id="n44" class="n"><rect x="2167" y="2066" width="149" height="40"/><text x="2241.5" y="2082">QPointer&lt; octave::set</text><text x="2241.5" y="2097">_path_dialog &gt;</text></g>
<g id="n45" class="n"><rect x="1301" y="2087" width="175" height="25"/><text x="1388.5" y="2104">octave::workspace_model</text></g>
<g id="n46" class="n"><rect x="925" y="2129" width="146" height="25"/><text x="998" y="2146">QAbstractTableModel</text></g>
<g id="n47" class="n"><rect x="1749" y="2131" width="147" height="25"/><text x="1822.5" y="2148">octave::base_qobject</text></g>
<g id="n48" class="n"><rect x="2179" y="2132" width="126" height="40"/><text x="2242" y="2148">octave::interpreter</text><text x="2242" y="2163">_qobject</text></g>
<g id="n49" class="n"><rect x="1293" y="2139" width="193" height="40"/><text x="1389.5" y="2155">QPointer&lt; octave::community</text><text x="1389.5" y="2170">_news &gt;</text></g>
<g id="n50" class="n"><rect x="575" y="2164" width="117" height="25"/><text x="633.5" y="2181">cmdline_options</text></g>
<g id="n51" class="n"><rect x="2193" y="2176" width="97" height="25"/><text x="2241.5" y="2193">QClipboard *</text></g>
<g id="n52" class="n r"><rect x="917" y="2179" width="163" height="25"/><text x="998.5" y="2196">octave::symbol_info_list</text></g>
<g id="n53" class="n"><rect x="1303" y="2204" width="173" height="40"/><text x="1389.5" y="2220">QPointer&lt; octave::release</text><text x="1389.5" y="2235">_notes &gt;</text></g>
<g id="n54" class="n"><rect x="939" y="2230" width="119" height="25"/><text x="998.5" y="2247">QList&lt; QColor &gt;</text></g>
<g id="n55" class="n"><rect x="2188" y="2248" width="108" height="25"/><text x="2242" y="2265">QMainWindow</text></g>
<g id="n56" class="n"><rect x="1340" y="2270" width="98" height="25"/><text x="1389" y="2287">QTranslator *</text></g>
<g id="n57" class="n"><rect x="2137" y="2299" width="211" height="25"/><text x="2242.5" y="2316">QHash&lt; QMenu *, QStringList &gt;</text></g>
<g id="n58" class="n"><rect x="1348" y="2321" width="82" height="25"/><text x="1389" y="2338">QThread *</text></g>
<g id="n59" class="n r"><rect x="2171" y="2349" width="142" height="25"/><text x="2242" y="2366">octave::led_indicator</text></g>
<g id="n60" class="n"><rect x="1301" y="2371" width="175" height="25"/><text x="1388.5" y="2388">octave::resource_manager</text></g>
<g id="n61" class="n"><rect x="929" y="2424" width="138" height="25"/><text x="998" y="2441">octave::gui_settings</text></g>
<g id="n62" class="n"><rect x="2196" y="2451" width="92" height="25"/><text x="2242" y="2468">QMenuBar *</text></g>
<g id="n63" class="n"><rect x="953" y="2474" width="90" height="25"/><text x="998" y="2491">QList&lt; int &gt;</text></g>
<g id="n64" class="n"><rect x="1777" y="2497" width="89" height="25"/><text x="1821.5" y="2514">QLineEdit *</text></g>
<g id="n65" class="n r"><rect x="2182" y="2502" width="120" height="40"/><text x="2242" y="2518">octave::find_files</text><text x="2242" y="2533">_dialog</text></g>
<g id="n66" class="n"><rect x="910" y="2525" width="178" height="25"/><text x="999" y="2542">QList&lt; QTemporaryFile * &gt;</text></g>
<g id="n67" class="n"><rect x="1312" y="2525" width="155" height="40"/><text x="1389.5" y="2541">QPointer&lt; octave::files</text><text x="1389.5" y="2556">_dock_widget &gt;</text></g>
<g id="n68" class="n"><rect x="1301" y="2590" width="177" height="40"/><text x="1389.5" y="2606">QPointer&lt; octave::terminal</text><text x="1389.5" y="2621">_dock_widget &gt;</text></g>
<g id="n69" class="n"><rect x="1773" y="2591" width="98" height="25"/><text x="1822" y="2608">QStatusBar *</text></g>
<g id="n70" class="n"><rect x="1281" y="2655" width="217" height="40"/><text x="1389.5" y="2671">QPointer&lt; octave::documentation</text><text x="1389.5" y="2686">_dock_widget &gt;</text></g>
<g id="n71" class="n"><rect x="965" y="2700" width="67" height="25"/><text x="998.5" y="2717">QString</text></g>
<g id="n72" class="n"><rect x="594" y="2771" width="80" height="25"/><text x="634" y="2788">QSettings</text></g>
<g id="n73" class="n"><rect x="956" y="2920" width="86" height="25"/><text x="999" y="2937">QStringList</text></g>
<g id="n74" class="n"><rect x="2869" y="2906" width="164" height="40"/><text x="2951" y="2922">std::shared_ptr&lt; octave</text><text x="2951" y="2937">::qt_interpreter_events &gt;</text></g>
<g id="n75" class="n"><rect x="1366" y="2974" width="47" height="25"/><text x="1389.5" y="2991">char</text></g>
<g id="n76" class="n"><rect x="964" y="3025" width="69" height="25"/><text x="998.5" y="3042">QObject</text></g>
<g id="n77" class="n"><rect x="2179" y="3075" width="126" height="25"/><text x="2242" y="3092">interpreter_events</text></g>
<g id="n78" class="n"><rect x="2569" y="3143" width="145" height="40"/><text x="2641.5" y="3159">octave::qt_interpreter</text><text x="2641.5" y="3174">_events</text></g>
<g id="n79" class="n"><rect x="268" y="3153" width="47" height="25"/><text x="291.5" y="3170">bool</text></g>
<g id="n80" class="n"><rect x="2207" y="3177" width="71" height="25"/><text x="2242.5" y="3194">QVariant</text></g>
<g id="n81" class="n"><rect x="2155" y="3227" width="175" height="25"/><text x="2242.5" y="3244">octave::QUIWidgetCreator</text></g>
<g id="n82" class="n r"><rect x="1783" y="3436" width="78" height="25"/><text x="1822" y="3453">load_path</text></g>
<g id="n83" class="n r"><rect x="774" y="3462" width="70" height="27"/><text x="809" y="3480">settings</text></g>
<g id="n84" class="n"><rect x="1765" y="3487" width="114" height="25"/><text x="1822" y="3504">QWaitCondition</text></g>
<g id="n85" class="n r"><rect x="960" y="3577" width="74" height="25"/><text x="997" y="3594">type_info</text></g>
<g id="n86" class="n r"><rect x="1772" y="3663" width="99" height="25"/><text x="1821.5" y="3680">error_system</text></g>
<g id="n87" class="n r"><rect x="952" y="3690" width="91" height="25"/><text x="997.5" y="3707">display_info</text></g>
<g id="n88" class="n r"><rect x="1772" y="3722" width="100" height="25"/><text x="1822" y="3739">input_system</text></g>
<g id="n89" class="n r"><rect x="1348" y="3902" width="82" height="25"/><text x="1389" y="3919">interpreter</text></g>
<g id="n90" class="n r"><rect x="934" y="3901" width="129" height="26"/><text x="998.5" y="3918">temporary_file_list</text></g>
<g id="n91" class="n"><rect x="218" y="3955" width="148" height="25"/><text x="292" y="3972">std::list&lt; std::string &gt;</text></g>
<g id="n92" class="n r"><rect x="1772" y="3960" width="99" height="25"/><text x="1821.5" y="3977">symbol_table</text></g>
<g id="n93" class="n"><rect x="941" y="4003" width="113" height="24"/><text x="997.5" y="4020">dynamic_loader</text></g>
<g id="n94" class="n"><rect x="1766" y="4096" width="111" height="25"/><text x="1821.5" y="4113">history_system</text></g>
<g id="n95" class="n r"><rect x="6" y="4107" width="79" height="25"/><text x="45.5" y="4124">std::string</text></g>
<g id="n96" class="n r"><rect x="1768" y="4221" width="107" height="25"/><text x="1821.5" y="4238">output_system</text></g>
<g id="n97" class="n"><rect x="415" y="4236" width="94" height="25"/><text x="462" y="4253">environment</text></g>
<g id="n98" class="n r"><rect x="1756" y="4418" width="131" height="25"/><text x="1821.5" y="4435">load_save_system</text></g>
<g id="n99" class="n"><rect x="1774" y="4483" width="95" height="25"/><text x="1821.5" y="4500">help_system</text></g>
<g id="n100" class="n"><rect x="1788" y="4533" width="68" height="25"/><text x="1822" y="4550">QMutex</text></g>
</svg>
